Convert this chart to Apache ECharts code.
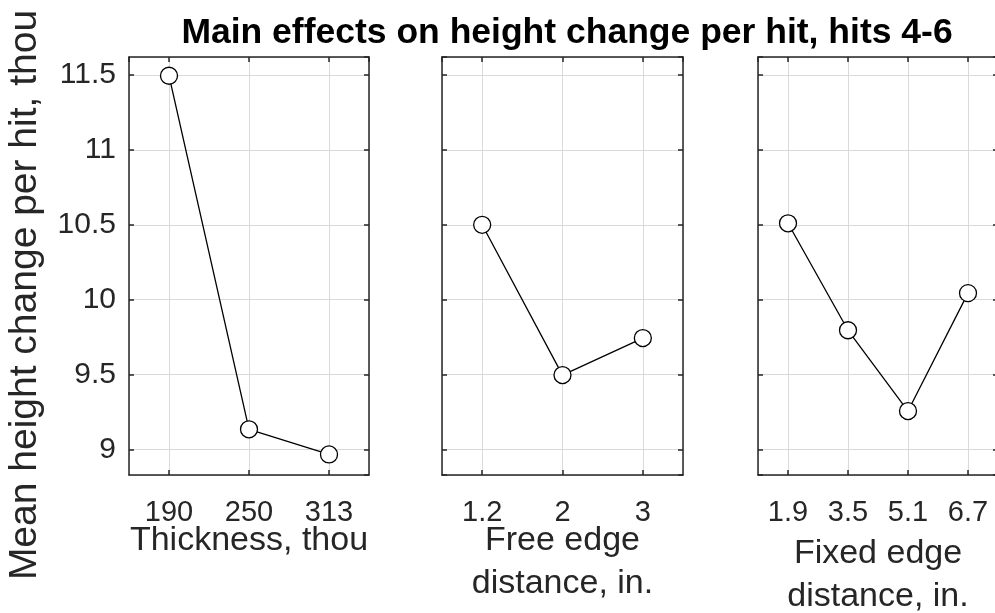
<!DOCTYPE html>
<html>
<head>
<meta charset="utf-8">
<script src="https://cdn.jsdelivr.net/npm/echarts@6/dist/echarts.min.js"></script>
<style>
html,body{margin:0;padding:0;background:#fff}
#graph{width:995px;height:613px}
</style>
</head>
<body>
<div id="graph"></div>
<script>
// values
var thicknessLabels = ['190', '250', '313'];
var thicknessMeans = [11.495, 9.135, 8.967];
var freeEdgeLabels = ['1.2', '2', '3'];
var freeEdgeMeans = [10.5, 9.497, 9.744];
var fixedEdgeLabels = ['1.9', '3.5', '5.1', '6.7'];
var fixedEdgeMeans = [10.51, 9.796, 9.257, 10.044];
var yMin = 8.83, yMax = 11.62;

var FONT = 'Liberation Sans, Arial, Helvetica, sans-serif';
var INK = '#262626';
var GRIDLINE = '#dadada';

var panels = [
  { left: 129, width: 240, labels: thicknessLabels, means: thicknessMeans, name: 'Thickness, thou', gap: 44 },
  { left: 442, width: 241, labels: freeEdgeLabels, means: freeEdgeMeans, name: 'Free edge\ndistance, in.', gap: 44 },
  { left: 758, width: 240, labels: fixedEdgeLabels, means: fixedEdgeMeans, name: 'Fixed edge\ndistance, in.', gap: 57 }
];

var chartDom = document.getElementById('graph');
var myChart = echarts.init(chartDom);

var grid = [], xAxis = [], yAxis = [], series = [];

panels.forEach(function (p, i) {
  grid.push({ left: p.left, width: p.width, top: 57, height: 418, outerBoundsMode: 'none', containLabel: false });

  var labels = p.labels;
  var xBase = {
    gridIndex: i,
    type: 'value',
    min: 0.5,
    max: labels.length + 0.5,
    minInterval: 1,
    maxInterval: 1,
    axisLine: { show: true, onZero: false, lineStyle: { color: INK, width: 1.5 } },
    axisTick: { show: true, inside: true, length: 5, lineStyle: { color: INK, width: 1.5 } }
  };
  // bottom x
  xAxis.push(Object.assign({}, xBase, {
    position: 'bottom',
    name: p.name,
    nameLocation: 'middle',
    nameGap: p.gap,
    nameMoveOverlap: false,
    nameTextStyle: { fontFamily: FONT, fontSize: 34, color: INK, lineHeight: 43 },
    axisLabel: {
      show: true, margin: 23, fontFamily: FONT, fontSize: 29, color: INK,
      showMinLabel: false, showMaxLabel: false,
      formatter: function (v) { return labels[Math.round(v) - 1] || ''; }
    },
    splitLine: { show: true, lineStyle: { color: GRIDLINE, width: 1 } }
  }));
  // top x (box + ticks)
  xAxis.push(Object.assign({}, xBase, {
    position: 'top',
    axisLabel: { show: false },
    splitLine: { show: false }
  }));

  var yBase = {
    gridIndex: i,
    type: 'value',
    min: yMin,
    max: yMax,
    minInterval: 0.5,
    maxInterval: 0.5,
    axisLine: { show: true, onZero: false, lineStyle: { color: INK, width: 1.5 } },
    axisTick: { show: true, inside: true, length: 5, lineStyle: { color: INK, width: 1.5 } }
  };
  yAxis.push(Object.assign({}, yBase, {
    position: 'left',
    axisLabel: {
      show: i === 0, margin: 13, fontFamily: FONT, fontSize: 30, color: INK,
      showMinLabel: false, showMaxLabel: false
    },
    splitLine: { show: true, lineStyle: { color: GRIDLINE, width: 1 } }
  }));
  yAxis.push(Object.assign({}, yBase, {
    position: 'right',
    axisLabel: { show: false },
    splitLine: { show: false }
  }));

  series.push({
    type: 'line',
    xAxisIndex: 2 * i,
    yAxisIndex: 2 * i,
    data: p.means.map(function (v, k) { return [k + 1, v]; }),
    symbol: 'circle',
    symbolSize: 17,
    showAllSymbol: true,
    itemStyle: { color: '#ffffff', borderColor: '#000000', borderWidth: 1.3 },
    lineStyle: { color: '#000000', width: 1.3 },
    z: 5
  });
});

var option = {
  animation: false,
  backgroundColor: '#ffffff',
  grid: grid,
  xAxis: xAxis,
  yAxis: yAxis,
  series: series,
  graphic: [{
    type: 'text',
    x: 567,
    y: 33,
    style: {
      text: 'Main effects on height change per hit, hits 4-6',
      font: 'bold 35.5px ' + FONT,
      fill: '#000000',
      textAlign: 'center',
      textVerticalAlign: 'middle'
    }
  }, {
    type: 'text',
    x: 25,
    y: 295,
    rotation: Math.PI / 2,
    style: {
      text: 'Mean height change per hit, thou',
      font: '39px ' + FONT,
      fill: INK,
      textAlign: 'center',
      textVerticalAlign: 'middle'
    }
  }]
};

option && myChart.setOption(option);
</script>
</body>
</html>
